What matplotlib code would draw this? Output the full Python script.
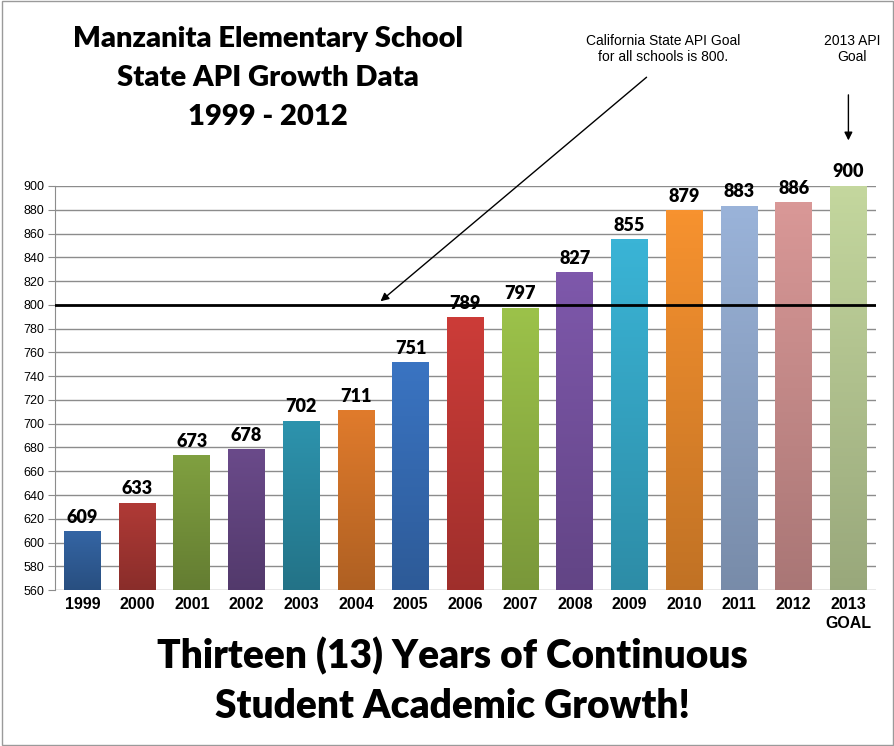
import numpy as np
import matplotlib.pyplot as plt
from matplotlib.colors import to_rgb
from matplotlib.patches import Rectangle

years = ["1999", "2000", "2001", "2002", "2003", "2004", "2005", "2006",
         "2007", "2008", "2009", "2010", "2011", "2012", "2013\nGOAL"]
api = [609, 633, 673, 678, 702, 711, 751, 789, 797, 827, 855, 879, 883, 886, 900]
colors = ["#3465a4", "#b03a36", "#80a040", "#6a4a8a", "#2d93ad", "#e07b2c",
          "#3a74c2", "#cc3c38", "#9cc24a", "#7e58ab", "#3ab4d6", "#f7922f",
          "#9ab3d9", "#d99897", "#c4d79e"]
state_goal = 800

fig = plt.figure(figsize=(8.95, 7.46), dpi=100)
ax = fig.add_axes([0.0615, 0.209, 0.917, 0.5417])

x = np.arange(len(api))
w = 0.67
ax.set_xlim(-0.5, len(api) - 0.5)
ax.set_ylim(560, 900)

# bars with a soft vertical gradient (darker at the bottom)
grad = np.linspace(0, 1, 100).reshape(-1, 1)
for xi, v, c in zip(x, api, colors):
    base = np.array(to_rgb(c))
    dark = base * 0.78
    img = dark + (base - dark) * grad[:, :, None]
    ax.imshow(img, extent=[xi - w / 2, xi + w / 2, 560, v], origin="lower",
              aspect="auto", zorder=2)
    ax.text(xi, v + 5, str(v), ha="center", va="bottom", fontsize=13,
            fontweight="heavy", family="Lato", zorder=4)

ax.set_yticks(np.arange(560, 901, 20))
ax.grid(axis="y", color="#8c8c8c", linewidth=1, zorder=0)
ax.set_axisbelow(True)
ax.axhline(state_goal, color="black", linewidth=2, zorder=3)

for s in ["top", "right", "bottom"]:
    ax.spines[s].set_visible(False)
ax.spines["left"].set_color("#8c8c8c")
ax.tick_params(axis="y", length=5, color="#8c8c8c", labelsize=9, pad=3)
ax.tick_params(axis="x", length=0, pad=5)
ax.set_xticks(x)
ax.set_xticklabels(years, fontsize=11.5, fontweight="bold", family="Liberation Sans",
                   linespacing=1.35)
for lab in ax.get_yticklabels():
    lab.set_family("Liberation Sans")

# annotations
ax.annotate("", xy=(5.41, 801.5), xytext=(10.35, 993),
            arrowprops=dict(arrowstyle="-|>", color="black", lw=1, mutation_scale=12),
            annotation_clip=False)
ax.annotate("", xy=(14, 936), xytext=(14, 979),
            arrowprops=dict(arrowstyle="-|>", color="black", lw=1, mutation_scale=12),
            annotation_clip=False)

fig.text(663 / 895, 1 - 49 / 746, "California State API Goal\nfor all schools is 800.",
         ha="center", va="center", fontsize=10, family="Liberation Sans",
         linespacing=1.1)
fig.text(852 / 895, 1 - 49 / 746, "2013 API\nGoal", ha="center", va="center",
         fontsize=10, family="Liberation Sans", linespacing=1.1)

fig.text(268 / 895, 1 - 78 / 746,
         "Manzanita Elementary School\nState API Growth Data\n1999 - 2012",
         ha="center", va="center", fontsize=21, fontweight="heavy",
         family="Lato", linespacing=1.6)
fig.text(452 / 895, 1 - 681 / 746,
         "Thirteen (13) Years of Continuous\nStudent Academic Growth!",
         ha="center", va="center", fontsize=28, fontweight="heavy",
         family="Lato", linespacing=1.45)

fig.patches.append(Rectangle((0.002, 0.002), 0.996, 0.996, transform=fig.transFigure,
                             fill=False, edgecolor="#9a9a9a", linewidth=1))

fig.savefig("out.png", dpi=100)
